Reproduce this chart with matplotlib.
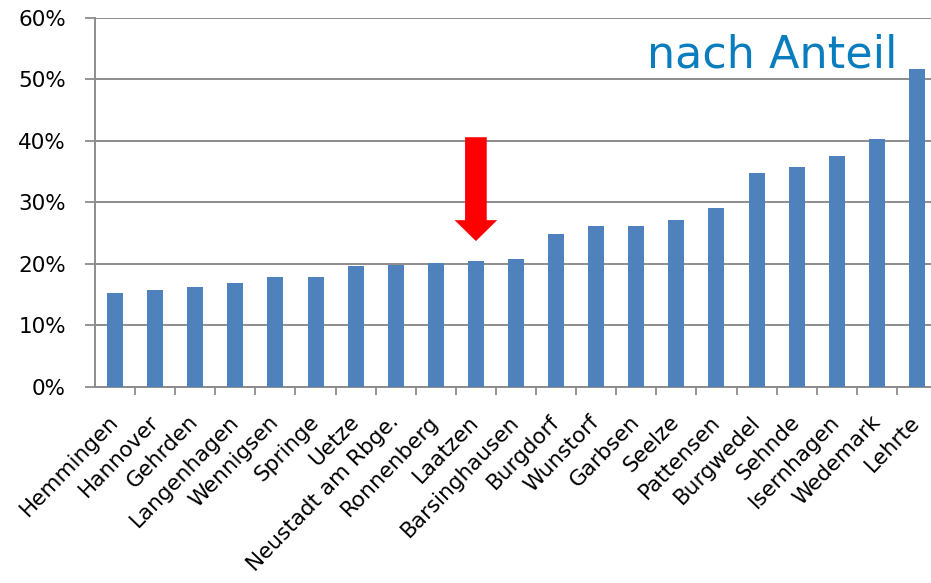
import matplotlib
matplotlib.use("Agg")
import matplotlib.pyplot as plt
import numpy as np
from matplotlib.ticker import FixedLocator, PercentFormatter

categories = ["Hemmingen", "Hannover", "Gehrden", "Langenhagen", "Wennigsen", "Springe",
              "Uetze", "Neustadt am Rbge.", "Ronnenberg", "Laatzen", "Barsinghausen",
              "Burgdorf", "Wunstorf", "Garbsen", "Seelze", "Pattensen", "Burgwedel",
              "Sehnde", "Isernhagen", "Wedemark", "Lehrte"]
values = [15.3, 15.7, 16.2, 16.9, 17.8, 17.8, 19.6, 19.8, 20.1, 20.4, 20.7,
          24.9, 26.1, 26.1, 27.2, 29.0, 34.8, 35.7, 37.5, 40.3, 51.7]
yticks = [0, 10, 20, 30, 40, 50, 60]
highlight = "Laatzen"
title = "nach Anteil"

plt.rcParams['font.family'] = ['DejaVu Sans']

fig = plt.figure(figsize=(9.31, 5.83), dpi=100)
ax = fig.add_axes([95/931, 196.3/583, (937-95)/931, (565-196.3)/583])

x = np.arange(len(categories))
ax.bar(x, values, width=0.4, color="#4F81BD", zorder=3)

ax.set_xlim(-0.5, len(categories) - 0.5)
ax.set_ylim(0, 60)
ax.set_yticks(yticks)
ax.yaxis.set_major_formatter(PercentFormatter(decimals=0))
ax.grid(axis='y', color='#8c8c8c', linewidth=1.4, zorder=0)
ax.set_axisbelow(True)

ax.set_xticks(x)
ax.set_xticklabels(categories, rotation=46, ha='right', va='center',
                   rotation_mode='anchor', fontsize=15.5)
ax.tick_params(axis='x', which='major', length=0, pad=23)
ax.xaxis.set_minor_locator(FixedLocator(np.arange(0.5, len(categories) - 1, 1.0)))
ax.tick_params(axis='x', which='minor', length=6, width=1.3, color='#8c8c8c', direction='out')
ax.tick_params(axis='y', length=7, width=1.3, color='#8c8c8c', labelsize=15.5, pad=14)

for s in ['top', 'right']:
    ax.spines[s].set_visible(False)
for s in ['left', 'bottom']:
    ax.spines[s].set_color('#8c8c8c')
    ax.spines[s].set_linewidth(1.4)

# red arrow pointing at highlighted bar
hi = categories.index(highlight)
hv = values[hi]
ax.arrow(hi, 40.6, 0, -(40.6 - hv - 3.3), width=0.54, head_width=1.06,
         head_length=3.4, length_includes_head=True, color='#FF0000', zorder=4,
         linewidth=0)

fig.text(897/931, 1 - 68/583, title, ha='right', va='baseline', fontsize=32,
         color='#0A7DBE', family=['DejaVu Sans'])

fig.savefig("out.png", dpi=100)
